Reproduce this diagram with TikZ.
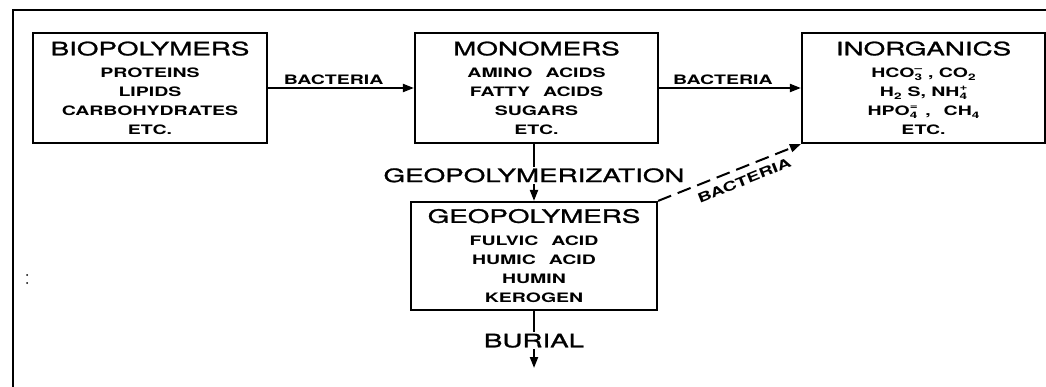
\documentclass[tikz,border=0pt]{standalone}
\usepackage{fontspec}
\setmainfont{TeX Gyre Heros}[FakeStretch=1.5]
\newfontfamily\titlefam{TeX Gyre Heros}[FakeStretch=1.5, FakeBold=1.2]
\usetikzlibrary{arrows.meta}
\newcommand\titlef{\titlefam\mdseries\fontsize{18.5}{19}\selectfont}
\newcommand\itemf{\bfseries\fontsize{13}{19}\selectfont}
\newcommand\labf{\bfseries\fontsize{13}{14}\selectfont}
\newcommand\chsub[1]{\raisebox{-3.5pt}[0pt][0pt]{\fontsize{9}{9}\selectfont #1}}
\newcommand\chsubsup[2]{\makebox[0pt][l]{\raisebox{5.5pt}[0pt][0pt]{\fontsize{9}{9}\selectfont #2}}\chsub{#1}}
\begin{document}
\begin{tikzpicture}[x=1pt,y=-1pt,
  box/.style={draw, line width=2.2pt, inner sep=0pt, align=center, font=\itemf},
  flow/.style={line width=2pt, -{Triangle[length=11pt,width=8pt]}},
  lab/.style={font=\labf, inner sep=2pt},
  biglab/.style={font=\titlef, fill=white, inner sep=1.5pt}]
\useasboundingbox (0,0) rectangle (1046,387);
\draw[line width=2.5pt] (13,387) -- (13,10) -- (1046,10);
\fill (27,275) circle (1pt);
\fill (27,283) circle (1pt);

\node[box, minimum width=234pt, minimum height=110pt] (bio) at (150,88)
  {{\titlef BIOPOLYMERS}\\[3pt] PROTEINS\\ LIPIDS\\ CARBOHYDRATES\\ ETC.};
\node[box, minimum width=243pt, minimum height=110pt] (mono) at (536.5,88)
  {{\titlef MONOMERS}\\[3pt] AMINO\quad ACIDS\\ FATTY\quad ACIDS\\ SUGARS\\ ETC.};
\node[box, minimum width=243pt, minimum height=110pt] (inorg) at (923.5,88)
  {{\titlef INORGANICS}\\[3pt] HCO\chsubsup{3}{–}\hspace{6pt}, CO\chsub{2}\\
   H\chsub{2}\hspace{6pt}S,\ NH\chsubsup{4}{+}\\
   HPO\chsubsup{4}{=}\hspace{8pt},\quad CH\chsub{4}\\ ETC.};
\node[box, minimum width=246pt, minimum height=108pt] (geo) at (534,256)
  {{\titlef GEOPOLYMERS}\\[4pt] FULVIC\quad ACID\\ HUMIC\quad ACID\\ HUMIN\\ KEROGEN};
\coordinate (bend) at (534,368);

\draw[flow] (bio) -- node[lab, above, pos=0.45]{BACTERIA} (mono);
\draw[flow] (mono) -- node[lab, above, pos=0.45]{BACTERIA} (inorg);
\draw[flow] (geo.north |- mono.south) -- node[biglab, pos=0.55]{GEOPOLYMERIZATION} (geo.north);
\draw[flow, dash pattern=on 14pt off 7pt] (geo.north east) -- node[lab, sloped, below=5pt, pos=0.57]{BACTERIA} (inorg.south west);
\draw[flow] (geo.south) -- node[biglab, pos=0.52]{BURIAL} (bend);
\end{tikzpicture}
\end{document}
